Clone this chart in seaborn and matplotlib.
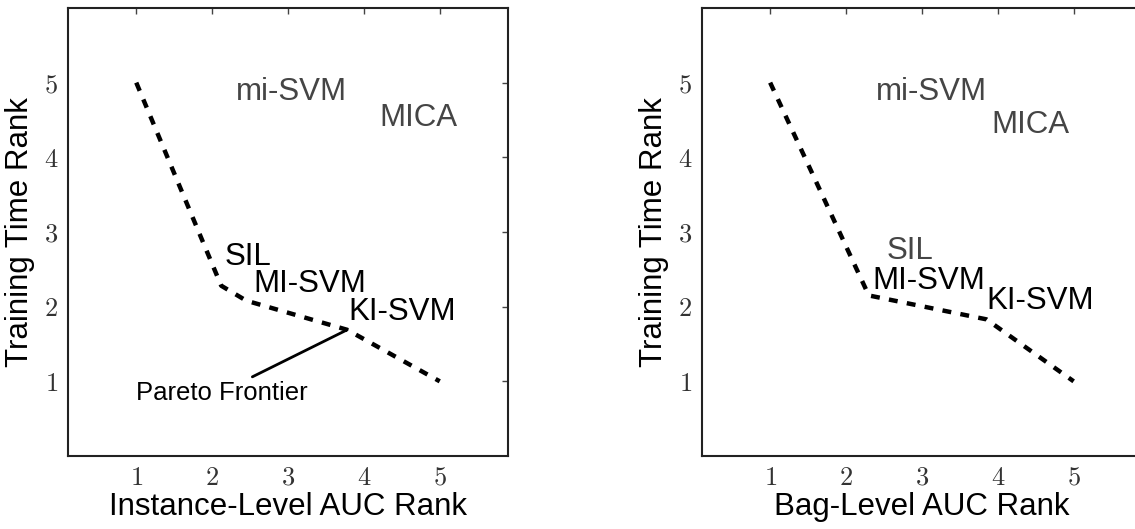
import matplotlib
matplotlib.use("Agg")
import matplotlib.pyplot as plt
import seaborn as sns
import pandas as pd

sns.set_style("white")
plt.rcParams["font.family"] = ["Liberation Sans", "DejaVu Sans"]
plt.rcParams["mathtext.fontset"] = "cm"

# ---- data ----
inst_frontier_x = [1.0, 2.12, 2.45, 3.78, 5.0]
inst_frontier_y = [5.0, 2.28, 2.08, 1.69, 1.0]
bag_frontier_x = [1.0, 2.3, 3.85, 5.0]
bag_frontier_y = [5.0, 2.15, 1.83, 1.0]

methods = ["mi-SVM", "MICA", "SIL", "MI-SVM", "KI-SVM"]
inst_label_x = [2.32, 4.21, 2.16, 2.55, 3.80]
inst_label_y = [4.88, 4.53, 2.67, 2.30, 1.93]
inst_label_gray = [True, True, False, False, False]
bag_label_x = [2.39, 3.92, 2.54, 2.35, 3.85]
bag_label_y = [4.88, 4.43, 2.74, 2.35, 2.07]
bag_label_gray = [True, True, True, False, False]

pareto_text = "Pareto Frontier"
pareto_text_xy = (1.0, 0.85)
pareto_line_x = [2.53, 3.78]
pareto_line_y = [1.06, 1.69]

ticks = [1, 2, 3, 4, 5]
xlabels = ["Instance-Level AUC Rank", "Bag-Level AUC Rank"]
ylabel = "Training Time Rank"

fig = plt.figure(figsize=(11.35, 5.29), dpi=100)
ax1 = fig.add_axes([0.0599, 0.138, 0.3877, 0.847])
ax2 = fig.add_axes([0.6184, 0.138, 0.3877, 0.847])

panels = [
    (ax1, inst_frontier_x, inst_frontier_y, inst_label_x, inst_label_y, inst_label_gray, xlabels[0]),
    (ax2, bag_frontier_x, bag_frontier_y, bag_label_x, bag_label_y, bag_label_gray, xlabels[1]),
]

for ax, fx, fy, lx, ly, lg, xl in panels:
    df = pd.DataFrame({"x": fx, "y": fy})
    sns.lineplot(data=df, x="x", y="y", sort=False, ax=ax, color="black",
                 lw=3.2, linestyle=(0, (2.0, 2.1)))
    for name, x, y, g in zip(methods, lx, ly, lg):
        ax.text(x, y, name, fontsize=22.5, color="#454545" if g else "black",
                ha="left", va="center")
    ax.set_xlim(0.1, 5.9)
    ax.set_ylim(0, 6)
    ax.set_xticks(ticks)
    ax.set_yticks(ticks)
    ax.set_xticklabels([f"${t}$" for t in ticks], fontsize=19, color="#333333")
    ax.set_yticklabels([f"${t}$" for t in ticks], fontsize=19, color="#333333")
    ax.tick_params(direction="in", length=4, width=1, top=True, right=True,
                   color="#444444", pad=7)
    ax.set_xlabel(xl, fontsize=22.5, labelpad=2, color="black")
    ax.set_ylabel(ylabel, fontsize=22.5, labelpad=6, color="black")
    for s in ax.spines.values():
        s.set_visible(True)
        s.set_color("#222222")
        s.set_linewidth(1.5)

ax1.plot(pareto_line_x, pareto_line_y, color="black", lw=2)
ax1.text(pareto_text_xy[0], pareto_text_xy[1], pareto_text, fontsize=18.5,
         ha="left", va="center", color="black")

fig.savefig("out.png", dpi=100)
